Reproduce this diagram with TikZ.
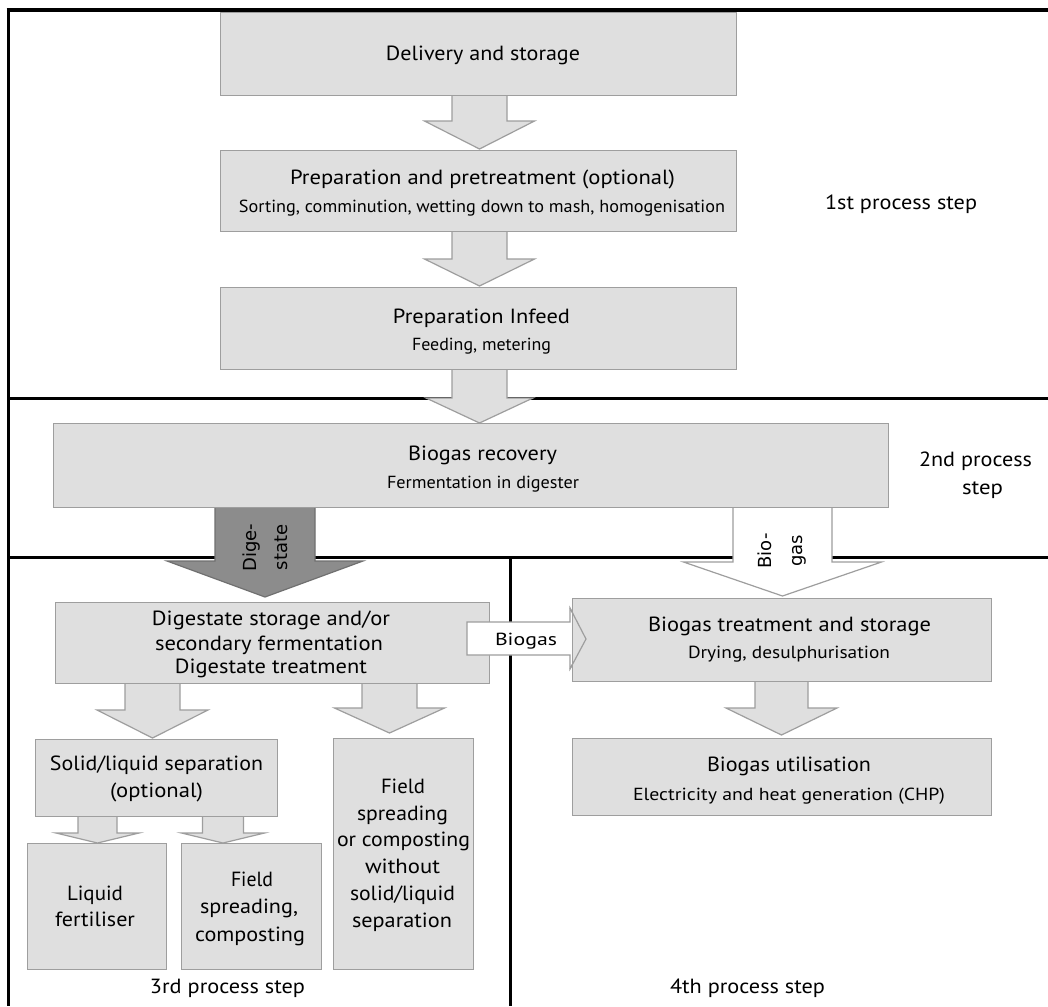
\documentclass[tikz,border=0pt]{standalone}
\usepackage{graphicx}
\usepackage{fontspec}
\setmainfont{PT Sans}
\newfontfamily\arrowfont{DejaVu Sans}
\definecolor{boxfill}{RGB}{223,223,223}
\definecolor{boxline}{RGB}{158,158,158}
\definecolor{darkfill}{RGB}{140,140,140}
\definecolor{darkline}{RGB}{112,112,112}
\newcommand{\fitw}[2]{\resizebox{#1pt}{\height}{#2}}
\newcommand{\blockdown}[8]{% cx, ytop, halfshaft, ybase, halfhead, ytip, fillcol, linecol
  \fill[#7] (#1-#3,#2) -- (#1-#3,#4) -- (#1-#5,#4) -- (#1,#6) -- (#1+#5,#4) -- (#1+#3,#4) -- (#1+#3,#2) -- cycle;
  \draw[#8, line width=1.2pt, line join=miter] (#1-#3,#2) -- (#1-#3,#4) -- (#1-#5,#4) -- (#1,#6) -- (#1+#5,#4) -- (#1+#3,#4) -- (#1+#3,#2);
}
\begin{document}
\begin{tikzpicture}[x=1pt,y=-1pt,
  pbox/.style={draw=boxline, fill=boxfill, line width=1.3pt, inner sep=0pt, anchor=north west},
  ttl/.style={font=\fontsize{20.5}{24}\selectfont, inner sep=0pt, anchor=base},
  sub/.style={font=\fontsize{17.5}{20}\selectfont, inner sep=0pt, anchor=base},
  rot/.style={font=\arrowfont\fontsize{18}{31}\selectfont, inner sep=0pt, align=center, rotate=90},
  frameline/.style={line width=3pt, black}]
\useasboundingbox (0,0) rectangle (1048,1006);
\fill[white] (0,0) rectangle (1048,1006);
% frame lines
\draw[frameline, line width=4pt] (6.5,10.5) -- (1048,10.5);
\draw[frameline] (8,8.5) -- (8,1006);
\draw[frameline] (8,398) -- (1048,398);
\draw[frameline] (8,557.5) -- (1048,557.5);
\draw[frameline] (510,557.5) -- (510,1006);
% block arrows
\blockdown{479.5}{95}{27.5}{121}{55}{149}{boxfill}{boxline}
\blockdown{479.5}{231}{27.5}{259}{55}{286}{boxfill}{boxline}
\blockdown{479.5}{369}{27.5}{398}{53.5}{423}{boxfill}{boxline}
\blockdown{265}{507}{50}{561}{98}{597}{darkfill}{darkline}
\blockdown{782.5}{507}{49.5}{562}{99}{596}{white}{boxline}
\blockdown{781.5}{681}{26.5}{708}{55.5}{735}{boxfill}{boxline}
\blockdown{152.5}{683}{27.5}{710}{55.5}{738}{boxfill}{boxline}
\blockdown{389.5}{683}{27.5}{708}{55}{733}{boxfill}{boxline}
\blockdown{97.5}{816}{19.5}{833}{41.5}{843}{boxfill}{boxline}
\blockdown{223}{816}{20.5}{833}{41.5}{843}{boxfill}{boxline}
% boxes
\node[pbox, minimum width=516pt, minimum height=83pt] (del) at (220,12) {};
\node[pbox, minimum width=516pt, minimum height=81pt] (prep) at (220,150) {};
\node[pbox, minimum width=516pt, minimum height=82pt] (infeed) at (220,287) {};
\node[pbox, minimum width=835pt, minimum height=84pt] (rec) at (53,423) {};
\node[pbox, minimum width=434pt, minimum height=81pt] (dstore) at (55,602) {};
\node[pbox, minimum width=242pt, minimum height=77pt] (sep) at (35,739) {};
\node[pbox, minimum width=140pt, minimum height=231pt] (field2) at (333,738) {};
\node[pbox, minimum width=139pt, minimum height=126pt] (liq) at (27,843) {};
\node[pbox, minimum width=140pt, minimum height=126pt] (field1) at (181,843) {};
\node[pbox, minimum width=419pt, minimum height=77pt] (gutil) at (572,738) {};
% horizontal biogas arrow
\draw[boxline, fill=white, line width=1.2pt] (467,622) -- (570,622) -- (570,608) -- (586,639) -- (570,669) -- (570,655) -- (467,655) -- cycle;
\node[pbox, minimum width=419pt, minimum height=83pt] (gtreat) at (572,598) {};
\draw[boxline, line width=1.2pt] (570,608) -- (586,639) -- (570,669);
% texts
\node[ttl] (del-t) at (483,61) {\fitw{194}{Delivery and storage}};
\node[ttl] (prep-t) at (482.5,184.5) {\fitw{385}{Preparation and pretreatment (optional)}};
\node[sub] (prep-s) at (482,212) {\fitw{486}{Sorting, comminution, wetting down to mash, homogenisation}};
\node[ttl] (inf-t) at (481.5,323) {\fitw{177}{Preparation Infeed}};
\node[sub] (inf-s) at (481.5,350.7) {\fitw{139}{Feeding, metering}};
\node[ttl] (step1) at (901,209.5) {\fitw{152}{1st process step}};
\node[ttl] (rec-t) at (482.5,460.7) {\fitw{149}{Biogas recovery}};
\node[sub] (rec-s) at (483,488.3) {\fitw{192}{Fermentation in digester}};
\node[ttl] (step2a) at (975.5,466) {\fitw{113}{2nd process}};
\node[ttl] (step2b) at (982.5,494) {\fitw{41}{step}};
\node[rot] (dig-t) at (265,547.5) {Dige-\\state};
\node[rot] (bio-t) at (782,551) {Bio-\\gas};
\node[ttl] (ds-1) at (271,625) {\fitw{238}{Digestate storage and/or}};
\node[ttl] (ds-2) at (269,650) {\fitw{228}{secondary fermentation}};
\node[ttl] (ds-3) at (271,673.3) {\fitw{192}{Digestate treatment}};
\node[sub] (bg-t) at (526,645) {\fitw{62}{Biogas}};
\node[ttl] (gt-t) at (789.5,631.7) {\fitw{283}{Biogas treatment and storage}};
\node[sub] (gt-s) at (789,658.3) {\fitw{202}{Drying, desulphurisation}};
\node[ttl] (gu-t) at (789,771.7) {\fitw{164}{Biogas utilisation}};
\node[sub] (gu-s) at (789,800) {\fitw{312}{Electricity and heat generation (CHP)}};
\node[ttl] (sep-1) at (156.5,770.7) {\fitw{213}{Solid/liquid separation}};
\node[ttl] (sep-2) at (156.5,797) {\fitw{93}{(optional)}};
\node[ttl] (f2-1) at (403,793.3) {\fitw{44}{Field}};
\node[ttl] (f2-2) at (402.5,820) {\fitw{91}{spreading}};
\node[ttl] (f2-3) at (403.5,846.7) {\fitw{133}{or composting}};
\node[ttl] (f2-4) at (402.5,873.3) {\fitw{75}{without}};
\node[ttl] (f2-5) at (402.5,900.7) {\fitw{105}{solid/liquid}};
\node[ttl] (f2-6) at (402,927.3) {\fitw{100}{separation}};
\node[ttl] (liq-1) at (95,900) {\fitw{56}{Liquid}};
\node[ttl] (liq-2) at (95,926.7) {\fitw{80}{fertiliser}};
\node[ttl] (f1-1) at (252,886.7) {\fitw{42}{Field}};
\node[ttl] (f1-2) at (249,913.3) {\fitw{98}{spreading,}};
\node[ttl] (f1-3) at (250,941.7) {\fitw{110}{composting}};
\node[ttl] (step3) at (227.5,993.3) {\fitw{155}{3rd process step}};
\node[ttl] (step4) at (747.5,993.3) {\fitw{155}{4th process step}};
\end{tikzpicture}
\end{document}
